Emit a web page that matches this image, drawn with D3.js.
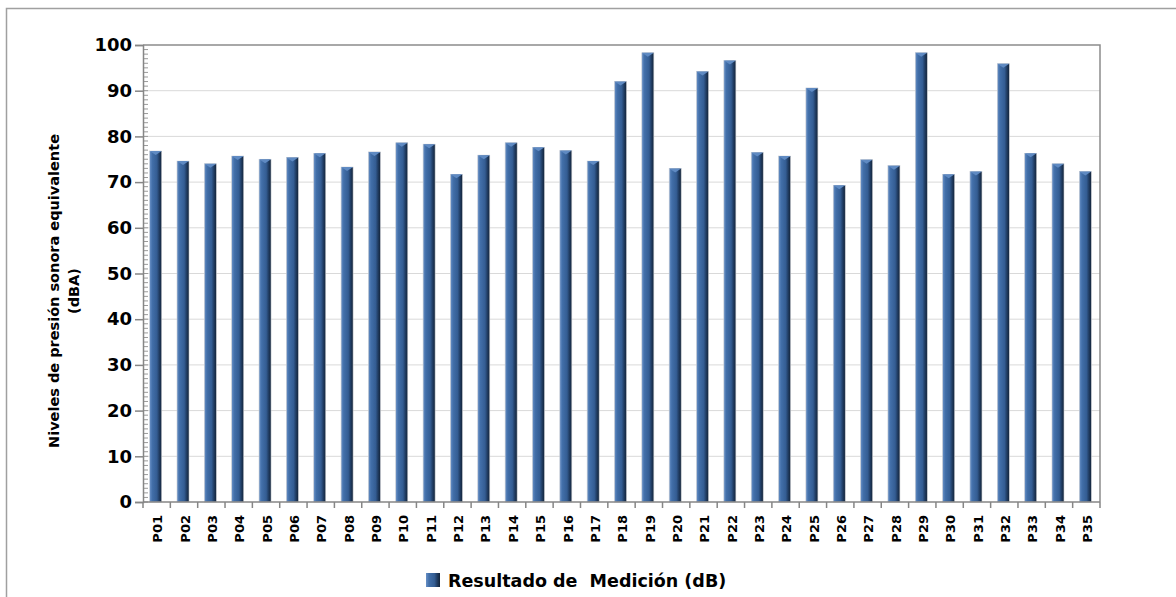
<!DOCTYPE html>
<html>
<head>
<meta charset="utf-8">
<script src="https://cdn.jsdelivr.net/npm/d3@7"></script>
<style>
  body { margin: 0; background: #fff; }
  svg { display: block; }
  text { font-family: "DejaVu Sans", sans-serif; font-weight: bold; fill: #000; }
</style>
</head>
<body>
<svg width="1176" height="597"></svg>
<script>
// Data
const puntos = ["P01","P02","P03","P04","P05","P06","P07","P08","P09","P10",
    "P11","P12","P13","P14","P15","P16","P17","P18","P19","P20",
    "P21","P22","P23","P24","P25","P26","P27","P28","P29","P30",
    "P31","P32","P33","P34","P35"]
const resultados = [76.8, 74.6, 74.0, 75.7, 75.0, 75.4, 76.3, 73.3, 76.6, 78.6,
    78.3, 71.7, 75.9, 78.6, 77.6, 76.9, 74.6, 92.0, 98.3, 73.0,
    94.2, 96.6, 76.5, 75.7, 90.6, 69.3, 74.9, 73.6, 98.3, 71.7,
    72.3, 95.9, 76.3, 74.0, 72.3]
const yTicks = [0, 10, 20, 30, 40, 50, 60, 70, 80, 90, 100]
const serieNombre = "Resultado de  Medición (dB)"
const tituloY = ["Niveles de presión sonora equivalente", "(dBA)"]

const svg = d3.select("svg")
const margin = {left: 143, right: 1100, top: 45, bottom: 502}

// scales
const x = d3.scaleBand()
    .domain(puntos)
    .range([margin.left, margin.right])
const y = d3.scaleLinear()
    .domain([0, 100])
    .range([margin.bottom, margin.top])

// gradient for the "3D" bars
const defs = svg.append("defs")
const grad = defs.append("linearGradient").attr("id", "barra")
    .attr("x1", "0%").attr("x2", "100%")
grad.append("stop").attr("offset", "0%").attr("stop-color", "#6890c6")
grad.append("stop").attr("offset", "22%").attr("stop-color", "#426fa9")
grad.append("stop").attr("offset", "60%").attr("stop-color", "#345d93")
grad.append("stop").attr("offset", "80%").attr("stop-color", "#203c62")
grad.append("stop").attr("offset", "100%").attr("stop-color", "#132337")

// outer chart border (runs off the right/bottom edge)
svg.append("path")
    .attr("d", "M6.5,600 V8.5 H1180")
    .attr("fill", "none")
    .attr("stroke", "#a0a0a0")
    .attr("stroke-width", 1.5)

// gridlines
svg.append("g")
    .selectAll("line")
    .data(yTicks.filter(d => d > 0 && d < 100))
    .join("line")
    .attr("x1", margin.left).attr("x2", margin.right)
    .attr("y1", d => y(d)).attr("y2", d => y(d))
    .attr("stroke", "#d9d9d9")
    .attr("stroke-width", 1)

// plot border top / right
svg.append("path")
    .attr("d", `M${margin.left},${margin.top} H${margin.right} V${margin.bottom}`)
    .attr("fill", "none")
    .attr("stroke", "#8c8c8c")
    .attr("stroke-width", 1.5)

// bars
const bw = 12
svg.append("g")
    .selectAll("rect")
    .data(resultados)
    .join("rect")
    .attr("x", (d, i) => x(puntos[i]) + x.bandwidth() / 2 - bw / 2 - 1)
    .attr("y", d => y(d))
    .attr("width", bw)
    .attr("height", d => y(0) - y(d))
    .attr("fill", "url(#barra)")
    .attr("stroke", "#c8ccd2")
    .attr("stroke-width", 0.6)

// little bevel on top of each bar
svg.append("g")
    .selectAll("path")
    .data(resultados)
    .join("path")
    .attr("d", (d, i) => {
        const x0 = x(puntos[i]) + x.bandwidth() / 2 - bw / 2 - 1
        const y0 = y(d)
        return `M${x0},${y0} H${x0 + bw} L${x0 + bw / 2},${y0 + 4} Z`
    })
    .attr("fill", "#5f8ac2")

// y axis: major ticks outside, minor ticks inside
const yAxis = svg.append("g").attr("transform", `translate(${margin.left},0)`)
yAxis.append("g")
    .selectAll("line")
    .data(d3.range(0, 100, 1))
    .join("line")
    .attr("x1", 0).attr("x2", 5)
    .attr("y1", d => y(d)).attr("y2", d => y(d))
    .attr("stroke", "#9a9a9a")
    .attr("stroke-width", 1)
yAxis.append("g")
    .call(d3.axisLeft(y).tickValues(yTicks).tickSize(8).tickPadding(3))
    .call(g => g.select(".domain").attr("stroke", "#868686").attr("stroke-width", 1.5))
    .call(g => g.selectAll(".tick line").attr("stroke", "#868686").attr("stroke-width", 1.5))
    .call(g => g.selectAll(".tick text")
        .style("font-family", "DejaVu Sans")
        .style("font-weight", "bold")
        .style("font-size", "18px")
        .attr("fill", "#000"))

// x axis
const xAxis = svg.append("g").attr("transform", `translate(0,${margin.bottom})`)
xAxis.append("line")
    .attr("x1", margin.left).attr("x2", margin.right)
    .attr("stroke", "#868686").attr("stroke-width", 1.5)
xAxis.append("g")
    .selectAll("line")
    .data(puntos.map(p => x(p)).concat([margin.right]))
    .join("line")
    .attr("x1", d => d).attr("x2", d => d)
    .attr("y1", 0).attr("y2", 6)
    .attr("stroke", "#868686").attr("stroke-width", 1.5)
xAxis.append("g")
    .selectAll("text")
    .data(puntos)
    .join("text")
    .attr("transform", d => `translate(${x(d) + x.bandwidth() / 2 + 1},13) rotate(-90)`)
    .attr("text-anchor", "end")
    .attr("dy", "0.36em")
    .style("font-size", "13px")
    .text(d => d)

// y axis title, two lines
svg.append("text")
    .attr("transform", "translate(59,291) rotate(-90)")
    .attr("text-anchor", "middle")
    .style("font-size", "14.5px")
    .selectAll("tspan")
    .data(tituloY)
    .join("tspan")
    .attr("x", 0)
    .attr("dy", (d, i) => i === 0 ? 0 : "1.4em")
    .text(d => d)

// legend
const legend = svg.append("g").attr("transform", "translate(426,573)")
legend.append("rect")
    .attr("width", 14).attr("height", 14)
    .attr("fill", "url(#barra)")
legend.append("text")
    .attr("x", 22).attr("y", 14)
    .style("font-size", "17.5px")
    .style("white-space", "pre")
    .text(serieNombre)
</script>
</body>
</html>
